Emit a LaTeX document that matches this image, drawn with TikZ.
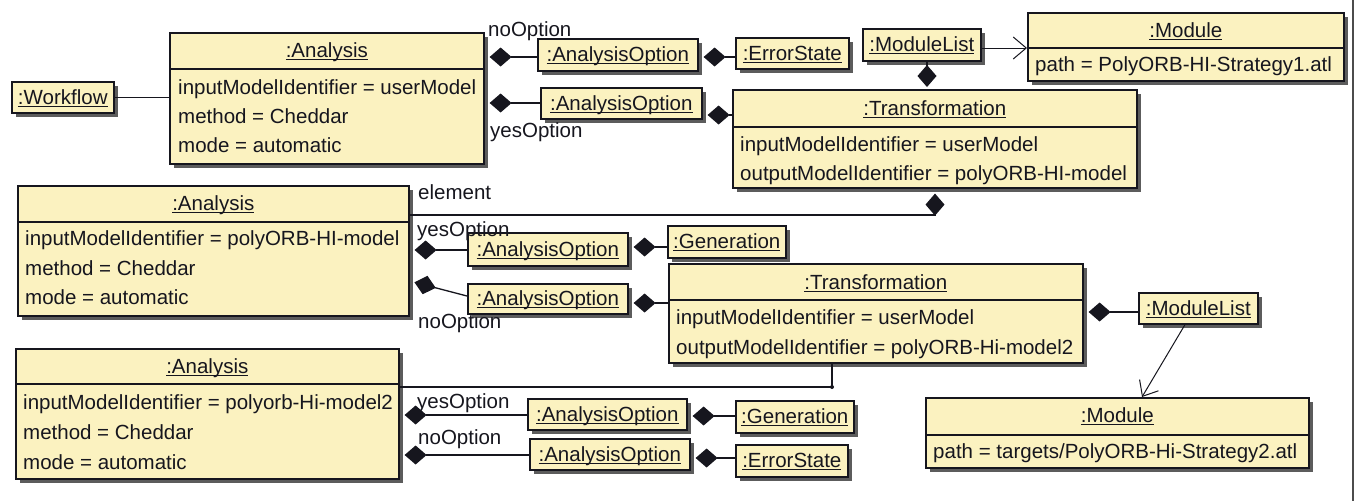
\documentclass[tikz,border=0pt]{standalone}
\usepackage{fontspec}
\setmainfont{Liberation Sans}
\usetikzlibrary{arrows.meta,shadows,calc}
\definecolor{boxfill}{RGB}{251,242,192}
\definecolor{ink}{RGB}{22,22,30}
\newcommand\myul[1]{\setbox0\hbox{#1}\rlap{\rule[-3.2pt]{\wd0}{0.9pt}}\box0}
\tikzset{
 obj/.style={draw=ink, fill=boxfill, line width=1.6pt, inner sep=0pt, anchor=north west,
   drop shadow={shadow xshift=4pt,shadow yshift=-4pt,fill=black!75,opacity=0.85}},
 txt/.style={inner sep=0pt, text=ink, font=\fontsize{20.5}{24}\selectfont},
 sepline/.style={draw=ink, line width=1.4pt},
 comp/.style={draw=ink, line width=1.3pt, arrows={Diamond[length=22pt,width=19pt]-}, shorten <=5pt},
 nav/.style={draw=ink, line width=1pt, arrows={-Straight Barb[length=13pt,width=22pt]}},
 assoc/.style={draw=ink, line width=1.3pt},
}
\newcommand\objbox[5]{\node[obj, minimum width={#4-#2}, minimum height={#5-#3}] (#1) at (#2,#3) {};}
\newcommand\objtitle[3]{\node[txt,anchor=base] (#1-t) at (#1.north |- 0,#2) {\myul{#3}};}
\newcommand\objsep[2]{\draw[sepline] (#1.west |- 0,#2) -- (#1.east |- 0,#2);}
\newcommand\objattr[5]{\node[txt,anchor=base west] (#1-#2) at (#3,#4) {#5};}
\begin{document}
\begin{tikzpicture}[x=1pt,y=-1pt]
\useasboundingbox (0,0) rectangle (1359,501);
\fill[white] (0,0) rectangle (1359,501);
% ---------- boxes ----------
\objbox{wf}{11}{81}{113}{112}\objtitle{wf}{104}{:Workflow}
\objbox{an1}{169}{32}{483}{163}\objsep{an1}{69}\objtitle{an1}{57}{:Analysis}
\objattr{an1}{a}{178}{94}{inputModelIdentifier = userModel}
\objattr{an1}{b}{178}{123}{method = Cheddar}
\objattr{an1}{c}{178}{152}{mode = automatic}
\objbox{ao1}{537}{38}{697}{70}\objtitle{ao1}{61}{:AnalysisOption}
\objbox{es1}{735}{37}{848}{68}\objtitle{es1}{60}{:ErrorState}
\objbox{ao2}{540}{87}{701}{118}\objtitle{ao2}{110}{:AnalysisOption}
\objbox{ml1}{862}{28}{980}{60}\objtitle{ml1}{51}{:ModuleList}
\objbox{mod1}{1027}{12}{1343}{80}\objsep{mod1}{48}\objtitle{mod1}{37}{:Module}
\objattr{mod1}{a}{1035}{71}{path = PolyORB-HI-Strategy1.atl}
\objbox{tr1}{732}{89}{1136}{187}\objsep{tr1}{127}\objtitle{tr1}{115}{:Transformation}
\objattr{tr1}{a}{740}{151}{inputModelIdentifier = userModel}
\objattr{tr1}{b}{740}{180}{outputModelIdentifier = polyORB-HI-model}
\objbox{an2}{17}{185}{408}{315}\objsep{an2}{222}\objtitle{an2}{210}{:Analysis}
\objattr{an2}{a}{25}{245}{inputModelIdentifier = polyORB-HI-model}
\objattr{an2}{b}{25}{275}{method = Cheddar}
\objattr{an2}{c}{25}{304}{mode = automatic}
\objbox{ao3}{467}{232}{627}{265}\objtitle{ao3}{256}{:AnalysisOption}
\objbox{gen1}{667}{225}{785}{257}\objtitle{gen1}{248}{:Generation}
\objbox{ao4}{467}{283}{627}{313}\objtitle{ao4}{305}{:AnalysisOption}
\objbox{tr2}{668}{263}{1082}{362}\objsep{tr2}{300}\objtitle{tr2}{289}{:Transformation}
\objattr{tr2}{a}{676}{324}{inputModelIdentifier = userModel}
\objattr{tr2}{b}{676}{354}{outputModelIdentifier = polyORB-Hi-model2}
\objbox{ml2}{1138}{292}{1257}{323}\objtitle{ml2}{315}{:ModuleList}
\objbox{mod2}{925}{397}{1308}{467}\objsep{mod2}{435}\objtitle{mod2}{422}{:Module}
\objattr{mod2}{a}{933}{458}{path = targets/PolyORB-Hi-Strategy2.atl}
\objbox{an3}{15}{348}{398}{478}\objsep{an3}{384}\objtitle{an3}{373}{:Analysis}
\objattr{an3}{a}{23}{409}{inputModelIdentifier = polyorb-Hi-model2}
\objattr{an3}{b}{23}{439}{method = Cheddar}
\objattr{an3}{c}{23}{469}{mode = automatic}
\objbox{ao5}{527}{398}{686}{429}\objtitle{ao5}{421}{:AnalysisOption}
\objbox{gen2}{735}{400}{853}{432}\objtitle{gen2}{423}{:Generation}
\objbox{ao6}{529}{438}{689}{469}\objtitle{ao6}{461}{:AnalysisOption}
\objbox{es2}{735}{444}{847}{476}\objtitle{es2}{467}{:ErrorState}
% ---------- connectors ----------
\draw[assoc] (wf.east) -- (wf.east -| an1.west);
\draw[comp] (an1.east |- 0,57) -- (ao1.west |- 0,57);
\draw[comp] (an1.east |- 0,103) -- (ao2.west |- 0,103);
\draw[comp] (ao1.east |- 0,57) -- (es1.west |- 0,57);
\draw[comp] (ao2.east |- 0,115) -- (tr1.west |- 0,115);
\draw[comp, shorten <=2pt] (tr1.north -| 927,0) -- (ml1.south -| 927,0);
\draw[nav] (ml1.east |- 0,48) -- (mod1.west |- 0,48);
\draw[comp] (tr1.south -| 935,0) -- (935,215) -- (an2.east |- 0,215);
\draw[comp] (an2.east |- 0,250) -- (ao3.west |- 0,250);
\draw[comp] (an2.east |- 0,281) -- (ao4.west |- 0,296);
\draw[comp] (ao3.east |- 0,247) -- (gen1.west |- 0,247);
\draw[comp] (ao4.east |- 0,303) -- (tr2.west |- 0,303);
\draw[comp] (tr2.east |- 0,312) -- (ml2.west |- 0,312);
\draw[nav] (ml2.south -| 1185,0) -- (mod2.north -| 1142,0);
\coordinate (bend) at (832,387);
\draw[assoc] (tr2.south -| bend) -- (bend) -- (an3.east |- bend);
\fill[ink] (bend) circle (2pt);
\draw[comp] (an3.east |- 0,415) -- (ao5.west |- 0,415);
\draw[comp] (an3.east |- 0,455) -- (ao6.west |- 0,455);
\draw[comp] (ao5.east |- 0,416) -- (gen2.west |- 0,416);
\draw[comp] (ao6.east |- 0,458) -- (es2.west |- 0,458);
% ---------- role labels ----------
\node[txt,anchor=base west] (l1) at (488,36) {noOption};
\node[txt,anchor=base west] (l2) at (490,137) {yesOption};
\node[txt,anchor=base west] (l3) at (418,199) {element};
\node[txt,anchor=base west] (l4) at (417,236) {yesOption};
\node[txt,anchor=base west] (l5) at (418,328) {noOption};
\node[txt,anchor=base west] (l6) at (417,408) {yesOption};
\node[txt,anchor=base west] (l7) at (418,444) {noOption};
% right frame edge
\draw[line width=1.5pt, black!70] (1353,0) -- (1353,501);
\end{tikzpicture}
\end{document}
